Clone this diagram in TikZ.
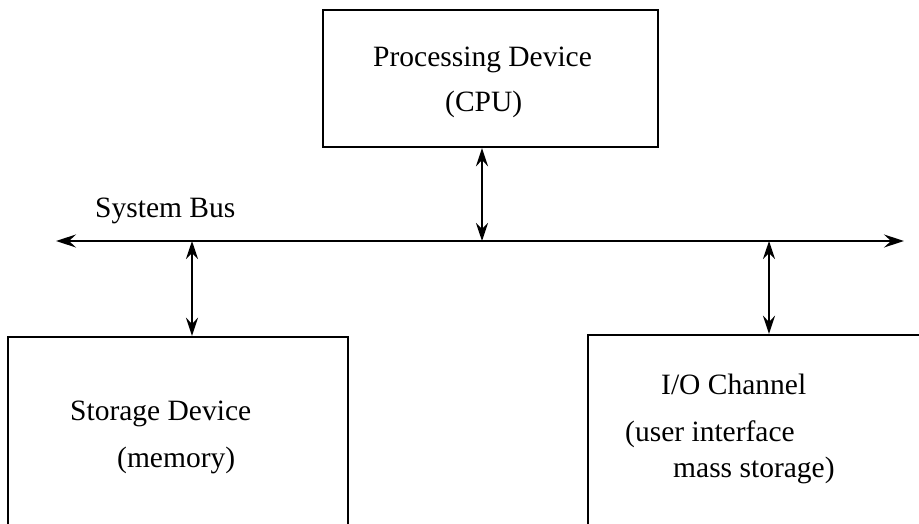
\documentclass[tikz,border=0pt]{standalone}
\usepackage{fontspec}
\setmainfont{Liberation Serif}
\usetikzlibrary{arrows.meta}
\begin{document}
\begin{tikzpicture}[x=1pt,y=-1pt,
  box/.style={draw,line width=2.4pt,rectangle,inner sep=0pt},
  lbl/.style={anchor=base west,inner sep=0pt,font=\fontsize{29.5}{34}\selectfont},
  tip/.style={Stealth[length=20pt,width=13pt,inset=7pt]},
  busline/.style={line width=2pt,{Stealth[length=20pt,width=13pt,inset=7pt]}-{Stealth[length=20pt,width=13pt,inset=7pt]}},
  link/.style={line width=2.2pt,{Stealth[length=18pt,width=12pt,inset=6pt]}-{Stealth[length=18pt,width=12pt,inset=6pt]}}]
\useasboundingbox (0,0) rectangle (919,524);
\clip (0,0) rectangle (919,524);
\fill[white] (0,0) rectangle (919,524);
% boxes
\node[box,minimum width=335pt,minimum height=137pt] (cpu) at (490.5,78.5) {};
\node[box,minimum width=340pt,minimum height=200pt] (mem) at (178,437) {};
\node[box,minimum width=342pt,minimum height=200pt] (io) at (759,435) {};
% bus
\coordinate (busL) at (56,241);
\coordinate (busR) at (904,241);
\draw[busline] (busL) -- (busR);
\coordinate (bcpu) at (482,241);
\coordinate (bmem) at (192,241);
\coordinate (bio) at (769,241);
\draw[link] (cpu.south -| bcpu) -- (bcpu);
\draw[link] (bmem) -- (mem.north -| bmem);
\draw[link] (bio) -- (io.north -| bio);
% labels
\node[lbl] (t1) at (373,67) {Processing Device};
\node[lbl] (t2) at (445,112) {(CPU)};
\node[lbl] (t3) at (95,218) {System Bus};
\node[lbl] (t4) at (70,420) {Storage Device};
\node[lbl] (t5) at (117,467) {(memory)};
\node[lbl] (t6) at (661,394) {I/O Channel};
\node[lbl] (t7) at (625,441) {(user interface};
\node[lbl] (t8) at (673,477) {mass storage)};
\end{tikzpicture}
\end{document}
